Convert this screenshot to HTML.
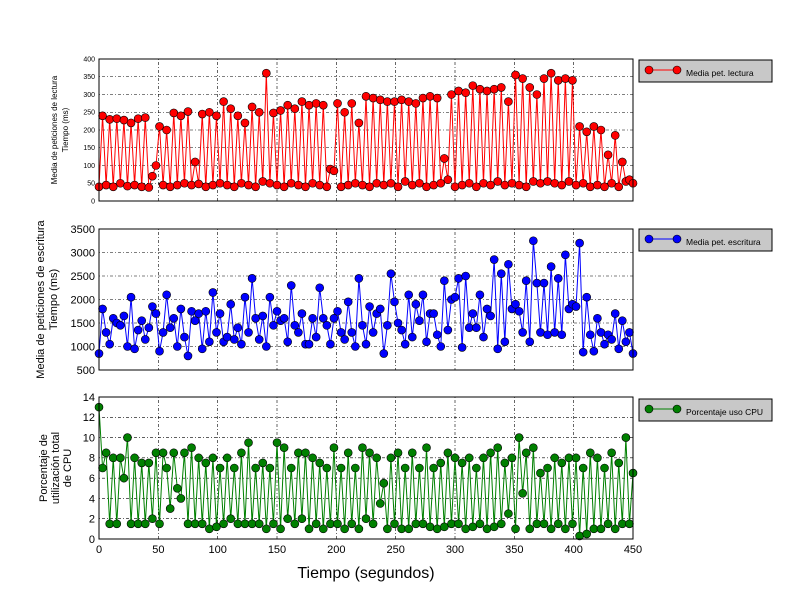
<!DOCTYPE html>
<html><head><meta charset="utf-8"><style>
html,body{margin:0;padding:0;background:#fff;}
svg{display:block;font-family:"Liberation Sans","DejaVu Sans",sans-serif;}
</style></head><body>
<svg id="chart" width="800" height="600" viewBox="0 0 800 600" xmlns="http://www.w3.org/2000/svg"></svg>
<script>
const times = Array.from({length:151},(_,i)=>i*3);
const readValues = [40,240,45,230,40,232,50,228,42,220,45,232,40,235,38,70,100,210,45,200,40,
248,45,240,50,252,45,110,48,245,40,
250,45,240,50,280,45,260,40,240,50,
220,45,265,40,250,55,360,50,248,45,
255,40,270,50,260,45,280,40,270,50,
275,45,270,40,90,85,275,40,250,45,
275,50,220,45,295,40,290,50,285,45,
280,50,280,40,285,55,280,45,275,50,
290,40,295,45,290,50,120,60,300,40,
310,45,305,50,325,40,315,50,310,45,
315,55,320,45,280,50,355,45,345,40,
320,55,300,50,345,55,360,50,340,45,
345,55,340,45,210,50,195,40,210,45,
200,40,130,50,185,40,110,55,60,50];
const writeValues = [850,1800,1300,1050,1600,1500,1450,1650,1000,2050,950,1350,1550,1150,1400,1850,1700,900,1300,2100,1400,
1600,1000,1800,1200,800,1750,1550,1700,950,1750,
1100,2150,1300,1700,1100,1200,1900,1150,1400,1050,
2050,1300,2450,1600,1150,1650,1000,2050,1450,1750,
1550,1600,1100,2300,1450,1300,1700,1050,1050,1600,
1200,2250,1600,1450,1050,1600,1750,1300,1150,1950,
1300,1000,2450,1450,1050,1850,1300,1700,1800,850,
1450,2550,1950,1500,1350,1050,2100,1200,1900,1550,
2100,1100,1700,1700,1250,1000,2400,1350,2000,2050,
2450,980,2500,1400,1700,1400,2100,1200,1800,1650,
2850,950,2550,1100,2750,1800,1900,1750,1300,2400,
1100,3250,2350,1300,2350,1250,2700,1300,2450,1250,
2950,1800,1900,1850,3200,880,2050,1250,900,1600,
1300,1050,1250,1150,1700,950,1550,1100,1300,850];
const cpuValues = [13,7,8.5,1.5,8,1.5,8,6,10,1.5,8,1.5,7.5,1.5,7.5,2,8.5,1.5,8.5,7,3,
8.5,5,4,8.5,1.5,9,1.5,8,1.5,7.5,
1,8,1.2,7,1.5,8,2,7,1.5,8.5,
1.5,9.5,1.5,7,1.5,7.5,1,7,1.5,9.5,
1,9,2,7,1.5,8.5,2,8.5,1,8,
1.5,7.5,1,7,1.5,9,1.5,7,1,8.5,
1.5,7,1,9,2,8.5,1.5,8,3.5,5.5,
1,8,1.5,8.5,1,7,1,8.5,1.5,7,
1.5,9,1.2,7,1,7.5,1.2,8.5,1.5,8,
1.5,7.5,1,8,1.2,7,1.5,8,1,8.5,
1.2,9,1.5,7.5,2.5,8,1,10,4.5,8.5,
1,9,1.5,6.5,1.5,7,1,8,1.5,7.5,
1,8,1.5,8,0.3,7,0.5,8.5,1,8,
1,7,1.5,8.5,1,7.5,1.5,10,1.5,6.5];
const xTicks = [0,50,100,150,200,250,300,350,400,450];
const readTicks = [0,50,100,150,200,250,300,350,400];
const writeTicks = [500,1000,1500,2000,2500,3000,3500];
const cpuTicks = [0,2,4,6,8,10,12,14];

const NS="http://www.w3.org/2000/svg";
const svg=document.getElementById('chart');
function mk(tag,attrs,parent){const e=document.createElementNS(NS,tag);for(const k in attrs)e.setAttribute(k,attrs[k]);(parent||svg).appendChild(e);return e;}
const L=99,R=633;
const xs=t=>L+(t-0)/450*(R-L);

function panel(key,top,bot,ymin,ymax,ticks,vals,color,fs,legend,legY,ylabels){
  const ys=v=>bot-(v-ymin)/(ymax-ymin)*(bot-top);
  const g=mk('g',{});
  
  
  mk('rect',{x:L,y:top,width:R-L,height:bot-top,fill:'#fff',stroke:'none'},g);
  xTicks.forEach(t=>{mk('line',{x1:xs(t),x2:xs(t),y1:top,y2:bot,stroke:'#000','stroke-width':0.6,'stroke-dasharray':'1,2,3,2'},g);});
  ticks.forEach(v=>{
    mk('line',{x1:L,x2:R,y1:ys(v),y2:ys(v),stroke:'#000','stroke-width':0.6,'stroke-dasharray':'1,2,3,2'},g);
    const tx=mk('text',{x:L-4,y:ys(v)+fs*0.35,'text-anchor':'end','font-size':fs,fill:'#000'},g);
    tx.textContent=v;
    
    
  });
  let d='';
  vals.forEach((v,i)=>{d+=(i?'L':'M')+xs(times[i]).toFixed(2)+','+ys(v).toFixed(2);});
  const ln=mk('path',{d:d,fill:'none',stroke:color,'stroke-width':1},g);
  
  
  vals.forEach((v,i)=>{
    const c=mk('circle',{cx:xs(times[i]),cy:ys(v),r:4,fill:color,stroke:'#000','stroke-width':0.6},g);
    
    
  });
  mk('rect',{x:L,y:top,width:R-L,height:bot-top,fill:'none',stroke:'#000','stroke-width':1},g);
  ylabels.forEach(l=>{
    const t=mk('text',{x:l[0],y:(top+bot)/2,'text-anchor':'middle','font-size':l[2],transform:'rotate(-90 '+l[0]+' '+(top+bot)/2+')'},g);
    t.textContent=l[1];
    
    
  });
  const lg=mk('g',{},g);
  
  
  mk('rect',{x:639,y:legY,width:133,height:22,fill:'#c8c8c8',stroke:'#000','stroke-width':1},lg);
  mk('line',{x1:649,x2:677,y1:legY+10,y2:legY+10,stroke:color,'stroke-width':1},lg);
  mk('circle',{cx:649,cy:legY+10,r:4,fill:color,stroke:'#000','stroke-width':0.6},lg);
  mk('circle',{cx:677,cy:legY+10,r:4,fill:color,stroke:'#000','stroke-width':0.6},lg);
  const lt=mk('text',{x:686,y:legY+16,'font-size':8.5,fill:'#000'},lg);
  lt.textContent=legend;
  return ys;
}
panel('read',59,201,0,400,readTicks,readValues,'#ff0000',7,'Media pet. lectura',60,[[57,'Media de peticiones de lectura',8],[68,'Tiempo (ms)',8]]);
panel('write',229,370,500,3500,writeTicks,writeValues,'#0000ff',11,'Media pet. escritura',229,[[44,'Media de peticiones de escritura',11],[57,'Tiempo (ms)',11]]);
panel('cpu',397,539,0,14,cpuTicks,cpuValues,'#008000',11,'Porcentaje uso CPU',399,[[47,'Porcentaje de',11],[59,'utilización total',11],[71,'de CPU',11]]);
xTicks.forEach(t=>{
  const tx=mk('text',{x:xs(t),y:553,'text-anchor':'middle','font-size':11});
  tx.textContent=t;
  
  
});
const xl=mk('text',{x:366,y:578,'text-anchor':'middle','font-size':16});
xl.textContent='Tiempo (segundos)';


</script>
</body></html>
